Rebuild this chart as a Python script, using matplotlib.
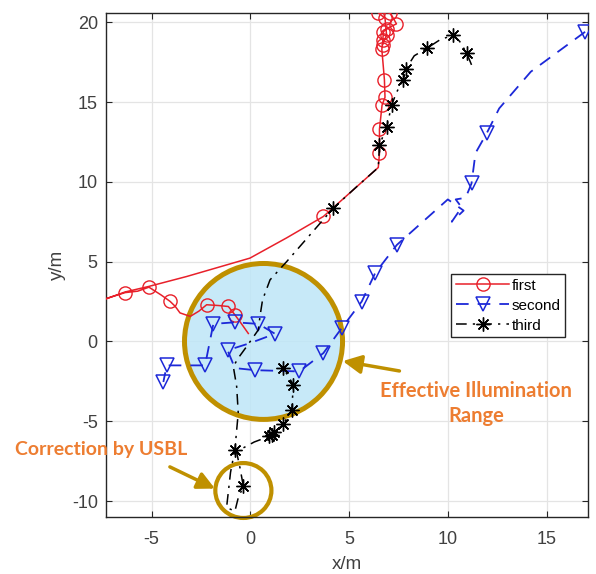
import matplotlib.pyplot as plt
from matplotlib.patches import Ellipse

plt.rcParams['font.family'] = ['Liberation Sans', 'DejaVu Sans']
plt.rcParams['axes.unicode_minus'] = False

# trajectories (metres)
first_x = [-0.1, -0.5, -0.78, -1.11, -1.6, -2.21, -2.6, -3.04, -3.56, -3.8, -4.06, -4.5, -5.13,
           -5.7, -6.34, -7.0, -7.6, -6.9, -6.34, -5.13, -3.22, -0.02, 1.84, 3.7, 6.48, 6.54,
           6.54, 6.67, 6.82, 6.79, 6.66, 6.71, 6.74, 6.9, 7.4, 7.08, 6.48, 6.82, 6.9, 6.7]
first_y = [0.5, 1.2, 1.67, 2.19, 2.25, 2.3, 1.9, 1.57, 1.79, 2.2, 2.51, 2.9, 3.4,
           3.15, 3.06, 2.8, 2.55, 2.85, 3.1, 3.45, 4.07, 5.22, 6.49, 7.83, 10.9, 11.8,
           13.3, 14.8, 15.3, 16.4, 18.3, 18.9, 19.4, 19.6, 19.9, 20.6, 20.6, 20.25, 19.2, 18.6]
first_marks = [2, 3, 5, 10, 12, 14, 23] + list(range(25, 40))

second_x = [16.95, 14.2, 12.6, 11.97, 11.4, 11.2, 10.9, 10.4, 10.7, 10.2, 10.8, 10.0, 7.42,
            6.32, 5.64, 4.63, 3.7, 2.48, 0.24, -0.78, -1.15, 0.0, 1.25, 0.41, -0.78, -1.87,
            -2.29, -4.23, -4.4]
second_y = [19.4, 16.9, 14.6, 13.05, 11.8, 9.9, 9.0, 8.9, 8.4, 7.5, 8.2, 8.9, 6.05,
            4.28, 2.5, 0.84, -0.73, -1.88, -1.8, -1.67, -0.55, -0.1, 0.48, 1.1, 1.2, 1.1,
            -1.5, -1.5, -2.54]
second_marks = [0, 3, 5, 12, 13, 14, 15, 16, 17, 18, 20, 22, 23, 24, 25, 26, 27, 28]

third_x = [11.2, 10.96, 10.6, 10.28, 9.6, 8.94, 8.3, 7.89, 7.75, 7.4, 7.16, 6.91, 6.54, 6.48,
           5.3, 4.2, 1.84, 1.0, 0.62, 0.49, 0.41, -0.18, -0.61, -0.86, -0.69, -0.61, -0.78,
           -1.0, -1.2, -0.78, -0.61, -0.35, -0.52, -0.7, 0.2, 0.95, 1.08, 1.2, 1.67, 2.1,
           2.18, 1.67]
third_y = [17.33, 18.06, 18.8, 19.2, 18.9, 18.37, 17.9, 17.1, 16.4, 15.6, 14.82, 13.46, 12.3,
           10.9, 9.6, 8.35, 5.0, 3.86, 2.6, 1.57, 0.73, -0.31, -1.04, -1.57, -2.82, -4.48,
           -6.78, -8.2, -10.4, -10.64, -9.8, -9.08, -7.93, -6.9, -6.3, -5.95, -5.84, -5.7,
           -5.2, -4.28, -2.71, -1.67]
third_marks = [1, 3, 5, 7, 8, 10, 11, 12, 15, 26, 31, 35, 36, 37, 38, 39, 40, 41]

gold = '#bf9000'
orange = '#ed7d31'

fig = plt.figure(figsize=(5.96, 5.74), dpi=100)
ax = fig.add_axes([0.178, 0.0993, 0.8087, 0.8786])

# highlighted regions
ax.add_patch(Ellipse((0.67, 0.0), 8.0, 9.77, facecolor=(0.745, 0.9, 0.97, 0.85),
                     edgecolor='none', zorder=1))
ax.add_patch(Ellipse((0.67, 0.0), 8.0, 9.77, facecolor='none', edgecolor=gold,
                     lw=3.6, zorder=1.5))
ax.add_patch(Ellipse((-0.35, -9.34), 2.84, 3.44, facecolor='none', edgecolor=gold,
                     lw=3.0, zorder=1.5, clip_on=False))

ax.plot(first_x, first_y, color='#e8202a', lw=1.1, marker='o', ms=9.5, mfc='none',
        mew=1.0, markevery=first_marks, label='first', zorder=3)
ax.plot(second_x, second_y, color='#1c28d8', lw=1.3, dashes=(7, 5), marker='v', ms=9.5,
        mfc='none', mew=1.1, markevery=second_marks, label='second', zorder=3)
ax.plot(third_x, third_y, color='black', lw=1.1, dashes=(7, 4, 1.5, 4), marker=(8, 2, 0),
        ms=10, mew=1.0, markevery=third_marks, label='third', zorder=3)

ax.set_xlim(-7.3, 17.1)
ax.set_ylim(-11, 20.6)
ax.set_xticks([-5, 0, 5, 10, 15])
ax.set_yticks([-10, -5, 0, 5, 10, 15, 20])
ax.grid(True, color='#e4e4e4', lw=0.9)
ax.set_axisbelow(True)
ax.tick_params(direction='in', length=4, top=True, right=True, labelsize=13,
               labelcolor='#404040', color='#262626')
ax.tick_params(axis='x', pad=10)
ax.tick_params(axis='y', pad=6)
for s in ax.spines.values():
    s.set_color('#262626')
    s.set_linewidth(1.0)
ax.set_xlabel('x/m', fontsize=13.5, color='#404040', labelpad=6)
ax.set_ylabel('y/m', fontsize=13.5, color='#404040', labelpad=4)

leg = ax.legend(loc='upper left', bbox_to_anchor=(0.716, 0.482), fontsize=11,
                handlelength=3.5, handletextpad=0.15, borderaxespad=0, borderpad=0.3,
                labelspacing=0.4, fancybox=False, framealpha=1, edgecolor='#262626')
leg.get_frame().set_linewidth(1.0)

# annotations
ax.annotate('', xy=(4.68, -1.23), xytext=(7.55, -1.85),
            arrowprops=dict(arrowstyle='-|>', color=gold, lw=2.5, mutation_scale=28,
                            shrinkA=0, shrinkB=0), zorder=4)
ax.annotate('', xy=(-1.79, -9.22), xytext=(-4.07, -7.86),
            arrowprops=dict(arrowstyle='-|>', color=gold, lw=2.5, mutation_scale=26,
                            shrinkA=0, shrinkB=0), annotation_clip=False, zorder=4)
ax.text(11.43, -3.9, 'Effective Illumination\nRange', color=orange, fontsize=14.5,
        family='Lato', weight='bold', ha='center', va='center', linespacing=1.35)
ax.text(-7.54, -6.76, 'Correction by USBL', color=orange, fontsize=14,
        family='Lato', weight='bold', ha='center', va='center')

fig.savefig('out.png', dpi=100)
